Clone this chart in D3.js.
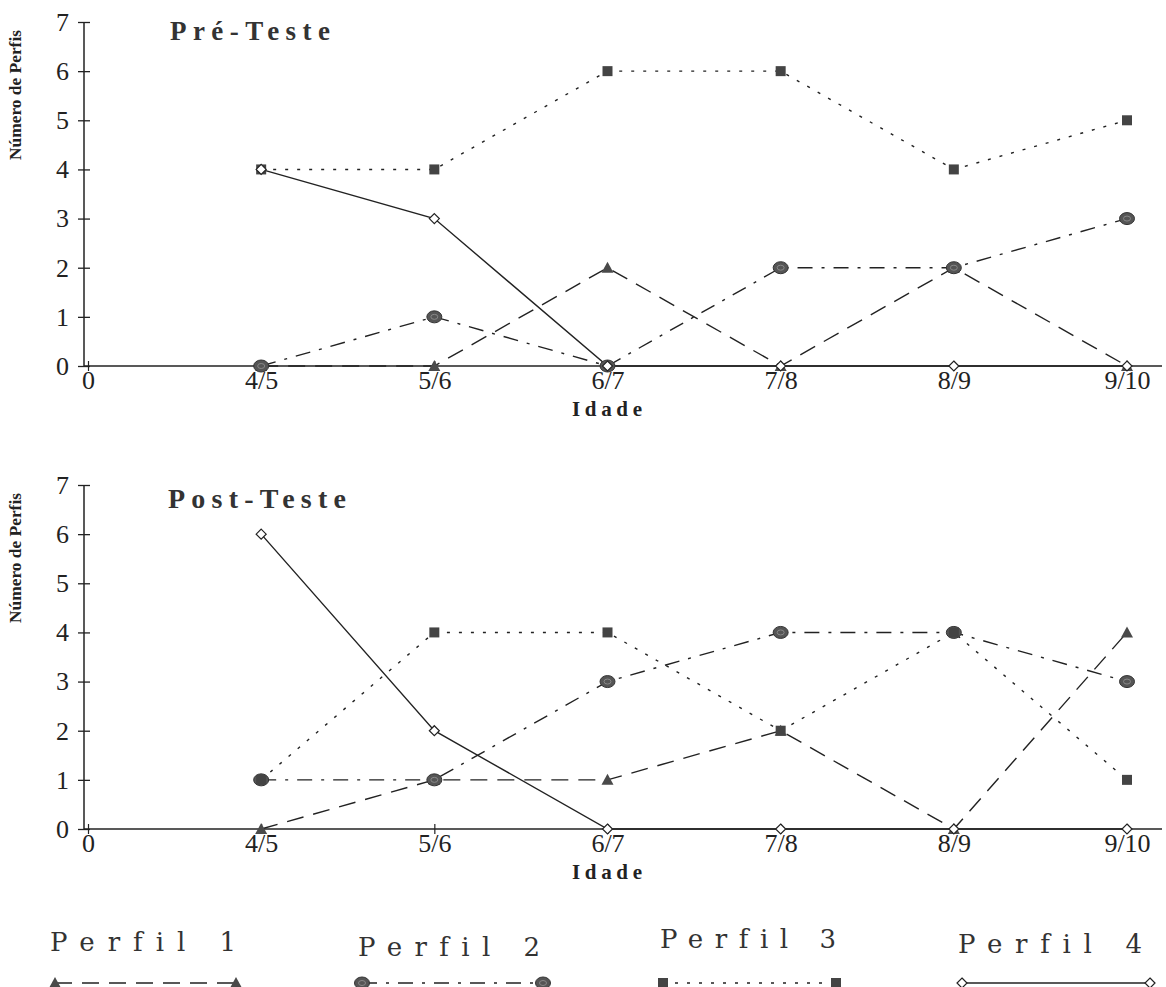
<!DOCTYPE html>
<html>
<head>
<meta charset="utf-8">
<script src="https://cdn.jsdelivr.net/npm/d3@7"></script>
<style>
  body { margin: 0; background: #fff; }
  svg { display: block; }
  text { font-variant-ligatures: none; font-feature-settings: "liga" 0; }
</style>
</head>
<body>
<svg id="chart" width="1166" height="987"></svg>
<script>
// ---- Data ----
const categories = ["0", "4/5", "5/6", "6/7", "7/8", "8/9", "9/10"];
const ageGroups = ["4/5", "5/6", "6/7", "7/8", "8/9", "9/10"];
const yTicks = [0, 1, 2, 3, 4, 5, 6, 7];
const seriesNames = ["Perfil 1", "Perfil 2", "Perfil 3", "Perfil 4"];

const preP1 = [0, 0, 2, 0, 2, 0];
const preP2 = [0, 1, 0, 2, 2, 3];
const preP3 = [4, 4, 6, 6, 4, 5];
const preP4 = [4, 3, 0, 0, 0, 0];

const postP1 = [0, 1, 1, 2, 0, 4];
const postP2 = [1, 1, 3, 4, 4, 3];
const postP3 = [1, 4, 4, 2, 4, 1];
const postP4 = [6, 2, 0, 0, 0, 0];

const panels = [
  { title: "Pré-Teste", titleX: 170, titleLen: 160, titleSize: 27, titleY: 40, series: [preP1, preP2, preP3, preP4], top: 22, bottom: 366 },
  { title: "Post-Teste", titleX: 168, titleLen: 178, titleSize: 28, titleY: 508, series: [postP1, postP2, postP3, postP4], top: 485, bottom: 829 }
];

// ---- Styles ----
const ink = "#222";
const styles = [
  { dash: "17,10", marker: "triangle" },
  { dash: "15,9,3,9", marker: "circle" },
  { dash: "3,9", marker: "square" },
  { dash: null, marker: "diamond" }
];

const svg = d3.select("#chart");
const serif = "'Liberation Serif', 'Times New Roman', serif";

const x = d3.scaleLinear().domain([0, 6]).range([88, 1127]);

function drawMarker(g, type, cx, cy) {
  if (type === "triangle") {
    g.append("path")
      .attr("d", `M${cx},${cy - 6}L${cx + 6},${cy + 5}L${cx - 6},${cy + 5}Z`)
      .attr("fill", "#4a4a4a");
  } else if (type === "circle") {
    g.append("ellipse").attr("cx", cx).attr("cy", cy).attr("rx", 7.5).attr("ry", 6)
      .attr("fill", "#555").attr("stroke", "#333").attr("stroke-width", 1);
    g.append("ellipse").attr("cx", cx).attr("cy", cy).attr("rx", 3.5).attr("ry", 2.5)
      .attr("fill", "none").attr("stroke", "#888").attr("stroke-width", 1);
  } else if (type === "square") {
    g.append("rect").attr("x", cx - 5).attr("y", cy - 5).attr("width", 10).attr("height", 10)
      .attr("fill", "#444");
  } else {
    g.append("path")
      .attr("d", `M${cx},${cy - 5}L${cx + 5},${cy}L${cx},${cy + 5}L${cx - 5},${cy}Z`)
      .attr("fill", "#fff").attr("stroke", ink).attr("stroke-width", 1.2);
  }
}

panels.forEach((p) => {
  const y = d3.scaleLinear().domain([0, 7]).range([p.bottom, p.top]);
  const g = svg.append("g");

  // y axis
  const yAxis = d3.axisLeft(y).tickValues(yTicks).tickSize(6).tickPadding(12)
    .tickFormat(d3.format("d"));
  const ya = g.append("g").attr("transform", "translate(84,0)").call(yAxis);
  ya.select(".domain").attr("stroke", ink).attr("stroke-width", 1.5).attr("d", `M0,${p.top}V${p.bottom}`);
  ya.selectAll(".tick line").attr("x1", -6).attr("x2", 6).attr("stroke", ink).attr("stroke-width", 1.3);
  ya.selectAll(".tick text").attr("font-family", serif).attr("font-size", 26).attr("fill", "#222")
    .attr("x", -15);

  // x axis
  const xAxis = d3.axisBottom(x).tickValues(d3.range(0, 7)).tickSize(5).tickPadding(10)
    .tickFormat((d) => categories[d]);
  const xa = g.append("g").attr("transform", `translate(0,${p.bottom})`).call(xAxis);
  xa.select(".domain").attr("d", `M84,0H1162`).attr("stroke", ink).attr("stroke-width", 1.5);
  xa.selectAll(".tick line").attr("y1", -5).attr("y2", 5).attr("stroke", ink).attr("stroke-width", 1.2);
  xa.selectAll(".tick text").attr("font-family", serif).attr("font-size", 26).attr("fill", "#222")
    .attr("dy", "0.71em").attr("y", 5);

  // title
  g.append("text").attr("x", p.titleX).attr("y", p.titleY)
    .attr("font-family", serif).attr("font-weight", "bold").attr("font-size", p.titleSize)
    .attr("textLength", p.titleLen).attr("lengthAdjust", "spacing")
    .attr("fill", "#333").text(p.title);

  // x axis title
  g.append("text").attr("x", 572).attr("y", p.bottom + 50)
    .attr("font-family", serif).attr("font-weight", "bold").attr("font-size", 21)
    .attr("textLength", 70).attr("lengthAdjust", "spacing")
    .attr("fill", "#222").text("Idade");

  // y axis title
  g.append("text")
    .attr("transform", `translate(21,${p.top + 138}) rotate(-90)`)
    .attr("font-family", serif).attr("font-weight", "bold").attr("font-size", 16)
    .attr("textLength", 130).attr("lengthAdjust", "spacingAndGlyphs")
    .attr("fill", "#222").text("Número de Perfis");

  // lines
  p.series.forEach((vals, si) => {
    const pts = vals.map((v, i) => [x(i + 1), y(v)]);
    const line = d3.line();
    g.append("path").attr("d", line(pts)).attr("fill", "none").attr("stroke", ink)
      .attr("stroke-width", 1.4).attr("stroke-dasharray", styles[si].dash);
  });
  // markers
  p.series.forEach((vals, si) => {
    vals.forEach((v, i) => drawMarker(g, styles[si].marker, x(i + 1), y(v)));
  });
});

// ---- Legend ----
const legendPos = [
  { tx: 50, ty: 951, len: 186, x1: 55, x2: 236, ly: 983 },
  { tx: 358, ty: 956, len: 182, x1: 362, x2: 543, ly: 983 },
  { tx: 660, ty: 948, len: 176, x1: 663, x2: 836, ly: 983 },
  { tx: 958, ty: 953, len: 184, x1: 962, x2: 1150, ly: 983 }
];
seriesNames.forEach((name, si) => {
  const L = legendPos[si];
  const g = svg.append("g");
  g.append("text").attr("x", L.tx).attr("y", L.ty)
    .attr("font-family", "'DejaVu Serif', 'Courier New', serif")
    .attr("font-size", 26).attr("textLength", L.len).attr("lengthAdjust", "spacing")
    .attr("fill", "#333").text(name);
  g.append("line").attr("x1", L.x1).attr("x2", L.x2).attr("y1", L.ly).attr("y2", L.ly)
    .attr("stroke", ink).attr("stroke-width", 1.4).attr("stroke-dasharray", styles[si].dash);
  drawMarker(g, styles[si].marker, L.x1, L.ly);
  drawMarker(g, styles[si].marker, L.x2, L.ly);
});
</script>
</body>
</html>
